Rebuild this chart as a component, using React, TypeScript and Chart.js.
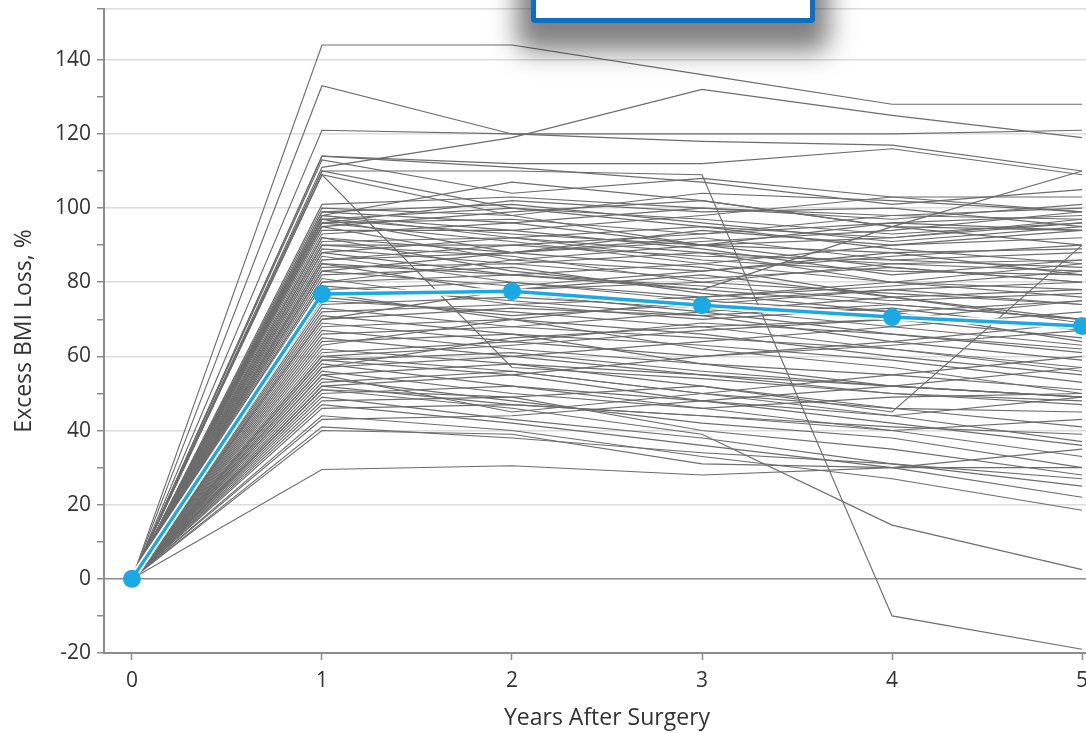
import React, { useEffect, useRef } from "react";
import { Chart, registerables } from "chart.js";

Chart.register(...registerables);

const years = [0, 1, 2, 3, 4, 5];
const meanLoss = [0, 76.8, 77.6, 73.8, 70.6, 68.2];
const yTickLabels = [-20, 0, 20, 40, 60, 80, 100, 120, 140];
const yMinorTicks = [-10, 10, 30, 50, 70, 90, 110, 130];
const yAxisTop = 153.7;

// Excess BMI loss (%) per patient at years 0..5
const patientLoss: number[][] = [
  [0, 144, 144, 136, 128, 128],
  [0, 133, 120, 118, 117, 110],
  [0, 121, 120, 120, 120, 121],
  [0, 111, 119, 132, 125, 119],
  [0, 110, 110, 109, -10, -19],
  [0, 114, 112, 112, 116, 109],
  [0, 114, 111, 107, 101, 105],
  [0, 113, 104, 108, 103, 99],
  [0, 110, 100, 95, 92, 96],
  [0, 109, 57, 54, 50, 48],
  [0, 109, 98, 90, 84, 80],
  [0, 101, 103, 100, 97, 101],
  [0, 100, 98, 104, 102, 99],
  [0, 99, 101, 96, 91, 95],
  [0, 98, 94, 98, 103, 103],
  [0, 98, 107, 102, 95, 90],
  [0, 97, 93, 90, 96, 98],
  [0, 97, 88, 92, 86, 84],
  [0, 96, 97, 93, 98, 100],
  [0, 96, 91, 85, 80, 78],
  [0, 95, 99, 102, 95, 94],
  [0, 95, 86, 83, 88, 89],
  [0, 94, 94, 89, 82, 86],
  [0, 93, 96, 90, 92, 97],
  [0, 92, 83, 78, 74, 70],
  [0, 91, 92, 95, 89, 85],
  [0, 90, 87, 80, 85, 83],
  [0, 90, 90, 93, 96, 94],
  [0, 89, 85, 88, 80, 76],
  [0, 88, 92, 86, 83, 82],
  [0, 87, 80, 75, 78, 74],
  [0, 86, 88, 84, 76, 69],
  [0, 85, 77, 72, 66, 62],
  [0, 85, 82, 78, 95, 110],
  [0, 84, 85, 81, 84, 80],
  [0, 83, 79, 83, 87, 90],
  [0, 82, 84, 77, 72, 75],
  [0, 81, 74, 70, 73, 67],
  [0, 80, 82, 79, 75, 77],
  [0, 79, 75, 71, 64, 59],
  [0, 78, 80, 76, 79, 83],
  [0, 77, 70, 66, 60, 55],
  [0, 76, 78, 80, 77, 74],
  [0, 75, 72, 68, 70, 65],
  [0, 74, 76, 73, 68, 63],
  [0, 73, 68, 65, 62, 57],
  [0, 72, 74, 76, 80, 85],
  [0, 71, 66, 58, 52, 49],
  [0, 70, 73, 71, 74, 70],
  [0, 69, 64, 69, 66, 61],
  [0, 68, 70, 62, 57, 50],
  [0, 67, 62, 58, 55, 51],
  [0, 66, 68, 72, 76, 78],
  [0, 65, 60, 55, 50, 47],
  [0, 64, 66, 63, 59, 53],
  [0, 62, 58, 52, 46, 41],
  [0, 61, 64, 60, 63, 67],
  [0, 60, 56, 50, 44, 37],
  [0, 60, 63, 67, 70, 75],
  [0, 59, 55, 48, 42, 36],
  [0, 59, 61, 56, 52, 49],
  [0, 58, 52, 46, 40, 33],
  [0, 57, 60, 64, 68, 72],
  [0, 56, 50, 46, 49, 50],
  [0, 55, 58, 55, 52, 49],
  [0, 54, 48, 42, 38, 30],
  [0, 53, 56, 50, 46, 45],
  [0, 52, 47, 44, 41, 39],
  [0, 52, 55, 60, 64, 69],
  [0, 51, 46, 39, 14.5, 2.5],
  [0, 51, 49, 40, 35, 28],
  [0, 50, 52, 48, 44, 49],
  [0, 49, 43, 38, 31, 25],
  [0, 48, 49, 52, 45, 90],
  [0, 47, 42, 36, 30, 22],
  [0, 46, 47, 44, 40, 43],
  [0, 44, 40, 33, 27, 18.5],
  [0, 43, 44, 48, 52, 57],
  [0, 41, 38, 34, 31, 27],
  [0, 40, 39, 31, 30, 35],
  [0, 29.5, 30.5, 28, 30, 30],
  [0, 99, 96, 100, 98, 97],
  [0, 97, 100, 97, 93, 96],
  [0, 92, 88, 91, 94, 99],
  [0, 88, 82, 85, 90, 94],
  [0, 86, 90, 87, 86, 88],
  [0, 80, 86, 90, 88, 82],
  [0, 76, 71, 74, 78, 80],
  [0, 70, 78, 82, 76, 70],
  [0, 63, 70, 75, 72, 64],
  [0, 57, 65, 68, 62, 56],
  [0, 55, 45, 50, 55, 60],
  [0, 98, 92, 88, 85, 86],
  [0, 96, 102, 99, 100, 95],
  [0, 83, 88, 94, 90, 92],
];

const FONT = "'Open Sans', 'Noto Sans', sans-serif";
const TEXT = "#333333";
const AXIS = "#8c8c8c";
const GRID = "#dcdcdc";
const BLUE = "#1aa9e2";

export default function App() {
  const ref = useRef<HTMLCanvasElement>(null);

  useEffect(() => {
    const canvas = ref.current;
    if (!canvas) return;
    const toPts = (vals: number[]) => vals.map((v, i) => ({ x: years[i], y: v }));
    const yTicks = [...yTickLabels, ...yMinorTicks, yAxisTop].sort((a, b) => a - b);

    const chart = new Chart(canvas, {
      type: "line",
      data: {
        datasets: [
          {
            label: "Mean",
            data: toPts(meanLoss),
            borderColor: BLUE,
            backgroundColor: BLUE,
            borderWidth: 3.5,
            pointRadius: 9,
            pointHoverRadius: 9,
            pointBorderWidth: 0,
            order: 0,
          },
          {
            label: "MeanHalo",
            data: toPts(meanLoss),
            borderColor: "#ffffff",
            borderWidth: 7,
            pointRadius: 0,
            order: 1,
          },
          ...patientLoss.map((p, i) => ({
            label: `Patient ${i + 1}`,
            data: toPts(p),
            borderColor: "#6c6c6c",
            borderWidth: 1.15,
            pointRadius: 0,
            order: 2,
          })),
        ],
      },
      options: {
        animation: false,
        responsive: false,
        devicePixelRatio: 1,
        events: [],
        layout: { padding: { top: 6, left: 0, right: 0, bottom: 0 } },
        plugins: { legend: { display: false }, tooltip: { enabled: false } },
        scales: {
          x: {
            type: "linear",
            min: -0.147,
            max: 5.147,
            afterBuildTicks: (s: any) => {
              s.ticks = years.map((v) => ({ value: v }));
            },
            afterFit: (s: any) => {
              s.height = 80;
              s.paddingLeft = 0;
              s.paddingRight = 0;
            },
            grid: {
              drawOnChartArea: false,
              drawTicks: true,
              tickLength: 7,
              tickColor: AXIS,
              tickWidth: 1.5,
            },
            border: { color: AXIS, width: 2 },
            ticks: {
              color: TEXT,
              padding: 8,
              font: { family: FONT, size: 21 },
              callback: (v: any) => String(v),
            },
            title: {
              display: true,
              text: "Years After Surgery",
              color: TEXT,
              font: { family: FONT, size: 23 },
              padding: { top: 0, bottom: 1 },
            },
          },
          y: {
            type: "linear",
            min: -20,
            max: yAxisTop,
            afterBuildTicks: (s: any) => {
              s.ticks = yTicks.map((v) => ({ value: v }));
            },
            afterFit: (s: any) => {
              s.width = 104;
              s.paddingTop = 0;
              s.paddingBottom = 0;
            },
            grid: {
              drawTicks: true,
              tickLength: 7,
              tickWidth: 1.5,
              lineWidth: 1.5,
              color: (c: any) => {
                const v = c.tick ? c.tick.value : 0;
                if (v === 0) return AXIS;
                if (yTickLabels.includes(v) || v === yAxisTop) return GRID;
                return "rgba(0,0,0,0)";
              },
              tickColor: AXIS,
            },
            border: { color: AXIS, width: 2 },
            ticks: {
              color: TEXT,
              padding: 6,
              font: { family: FONT, size: 21 },
              callback: (v: any) => (yTickLabels.includes(Number(v)) ? String(v) : ""),
            },
            title: {
              display: true,
              text: "Excess BMI Loss, %",
              color: TEXT,
              font: { family: FONT, size: 23 },
              padding: { top: 11, bottom: 0 },
            },
          },
        },
      },
    } as any);

    return () => chart.destroy();
  }, []);

  return (
    <div
      style={{
        position: "fixed",
        left: 0,
        top: 0,
        width: 1086,
        height: 733,
        overflow: "hidden",
        background: "#ffffff",
      }}
    >
      <canvas ref={ref} width={1119} height={733} style={{ display: "block" }} />
      <div
        style={{
          position: "absolute",
          left: 531,
          top: -40,
          width: 284,
          height: 63,
          boxSizing: "border-box",
          border: "5px solid #0b6fc2",
          borderRadius: 4,
          background: "#ffffff",
          boxShadow: "0 14px 26px 14px rgba(0,0,0,0.5)",
        }}
      />
    </div>
  );
}
